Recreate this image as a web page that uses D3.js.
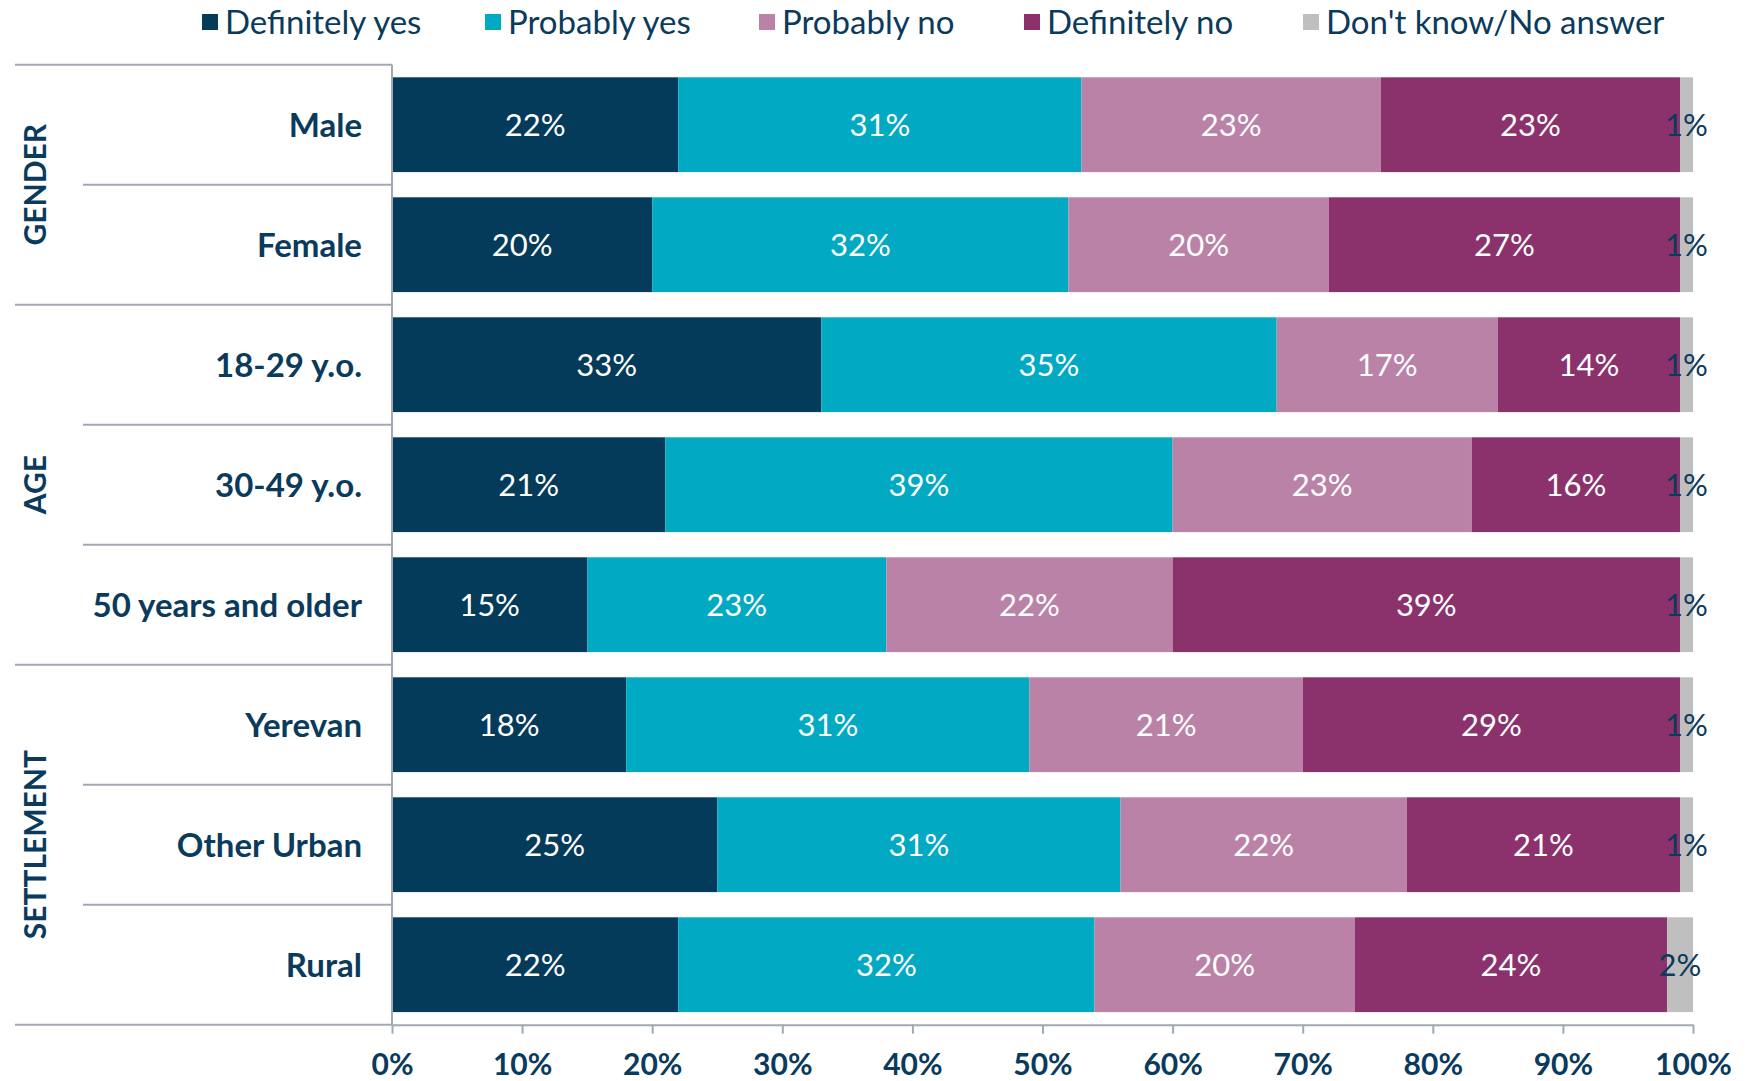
<!DOCTYPE html>
<html>
<head>
<meta charset="utf-8">
<script src="https://cdn.jsdelivr.net/npm/d3@7"></script>
<style>
  html, body { margin: 0; padding: 0; background: #fff; }
  svg { display: block; font-family: Lato, "Open Sans", sans-serif; }
</style>
</head>
<body>
<svg id="chart" width="1748" height="1081"></svg>
<script>
const categories = ["Male", "Female", "18-29 y.o.", "30-49 y.o.", "50 years and older", "Yerevan", "Other Urban", "Rural"];
const groups = [
  { name: "GENDER", members: ["Male", "Female"] },
  { name: "AGE", members: ["18-29 y.o.", "30-49 y.o.", "50 years and older"] },
  { name: "SETTLEMENT", members: ["Yerevan", "Other Urban", "Rural"] }
];
const seriesNames = ["Definitely yes", "Probably yes", "Probably no", "Definitely no", "Don't know/No answer"];
const colors = ["#043A5A", "#02A9C3", "#BB82A8", "#8B326C", "#BFBFBF"];
const labelColors = ["#ffffff", "#ffffff", "#ffffff", "#ffffff", "#0A3A5C"];
const definitelyYes = [22, 20, 33, 21, 15, 18, 25, 22];
const probablyYes   = [31, 32, 35, 39, 23, 31, 31, 32];
const probablyNo    = [23, 20, 17, 23, 22, 21, 22, 20];
const definitelyNo  = [23, 27, 14, 16, 39, 29, 21, 24];
const dontKnow      = [1, 1, 1, 1, 1, 1, 1, 2];
const xTicks = [0, 10, 20, 30, 40, 50, 60, 70, 80, 90, 100];

const series = [definitelyYes, probablyYes, probablyNo, definitelyNo, dontKnow];
const textColor = "#0A3A5C";
const lineColor = "#A2A9B4";

const svg = d3.select("#chart");
const x = d3.scaleLinear().domain([0, 100]).range([392, 1693]);
const y = d3.scaleBand().domain(categories).range([64.7, 1024.7]).paddingInner(0.21).paddingOuter(0.105);

const rows = categories.map((c, i) => {
  const o = { cat: c };
  seriesNames.forEach((s, j) => o[s] = series[j][i]);
  return o;
});
const stacked = d3.stack().keys(seriesNames)(rows);

const step = y.step();
const lines = svg.append("g");
groups.forEach((g) => {
  const top = y(g.members[0]) - y.paddingOuter() * step;
  lines.append("line").attr("x1", 15).attr("x2", x(0)).attr("y1", top).attr("y2", top)
    .attr("stroke", lineColor).attr("stroke-width", 2);
  g.members.slice(1).forEach(m => {
    const yy = y(m) - y.paddingOuter() * step;
    lines.append("line").attr("x1", 83).attr("x2", x(0)).attr("y1", yy).attr("y2", yy)
      .attr("stroke", lineColor).attr("stroke-width", 2);
  });
});
const bottomY = y.range()[1];
lines.append("line").attr("x1", 15).attr("x2", x(0)).attr("y1", bottomY).attr("y2", bottomY)
  .attr("stroke", lineColor).attr("stroke-width", 2);

const layer = svg.append("g").selectAll("g").data(stacked).join("g")
  .attr("fill", (d, i) => colors[i]);
layer.selectAll("rect").data(d => d).join("rect")
  .attr("x", d => x(d[0]))
  .attr("width", d => x(d[1]) - x(d[0]))
  .attr("y", d => y(d.data.cat))
  .attr("height", y.bandwidth());

stacked.forEach((s, i) => {
  svg.append("g").selectAll("text").data(s).join("text")
    .attr("x", d => (x(d[0]) + x(d[1])) / 2)
    .attr("y", d => y(d.data.cat) + y.bandwidth() / 2)
    .attr("dy", "0.36em")
    .attr("text-anchor", "middle")
    .attr("font-size", 31)
    .attr("fill", labelColors[i])
    .text(d => (d[1] - d[0]) + "%");
});

svg.append("line").attr("x1", x(0)).attr("x2", x(0)).attr("y1", 64.7).attr("y2", bottomY)
  .attr("stroke", lineColor).attr("stroke-width", 2);

const xAxis = svg.append("g").attr("transform", `translate(0,${bottomY})`)
  .call(d3.axisBottom(x).tickValues(xTicks).tickFormat(d => d + "%").tickSize(9).tickSizeOuter(0));
xAxis.select(".domain").attr("stroke", lineColor).attr("stroke-width", 2);
xAxis.selectAll(".tick line").attr("stroke", lineColor).attr("stroke-width", 2);
xAxis.selectAll(".tick text").attr("fill", textColor).attr("font-size", 30)
  .attr("font-weight", "bold").attr("font-family", "Lato, sans-serif").attr("y", 40).attr("dy", "0.36em");

svg.append("g").selectAll("text").data(categories).join("text")
  .attr("x", 362)
  .attr("y", d => y(d) + y.bandwidth() / 2)
  .attr("dy", "0.36em")
  .attr("text-anchor", "end")
  .attr("font-size", 33)
  .attr("font-weight", "bold")
  .attr("fill", textColor)
  .text(d => d);

groups.forEach(g => {
  const top = y(g.members[0]) - y.paddingOuter() * step;
  const bot = y(g.members[g.members.length - 1]) + y.bandwidth() + y.paddingOuter() * step;
  const cy = (top + bot) / 2;
  svg.append("text")
    .attr("transform", `translate(35,${cy}) rotate(-90)`)
    .attr("dy", "0.36em")
    .attr("text-anchor", "middle")
    .attr("font-size", 30)
    .attr("font-weight", "bold")
    .attr("fill", textColor)
    .text(g.name);
});

const legendX = [202, 485, 759, 1024, 1303];
const legend = svg.append("g").selectAll("g").data(seriesNames).join("g")
  .attr("transform", (d, i) => `translate(${legendX[i]},22)`);
legend.append("rect").attr("x", 0).attr("y", -8).attr("width", 16).attr("height", 16)
  .attr("fill", (d, i) => colors[i]);
legend.append("text").attr("x", 23).attr("y", 0).attr("dy", "0.36em")
  .attr("font-size", 33).attr("fill", textColor).text(d => d);
</script>
</body>
</html>
